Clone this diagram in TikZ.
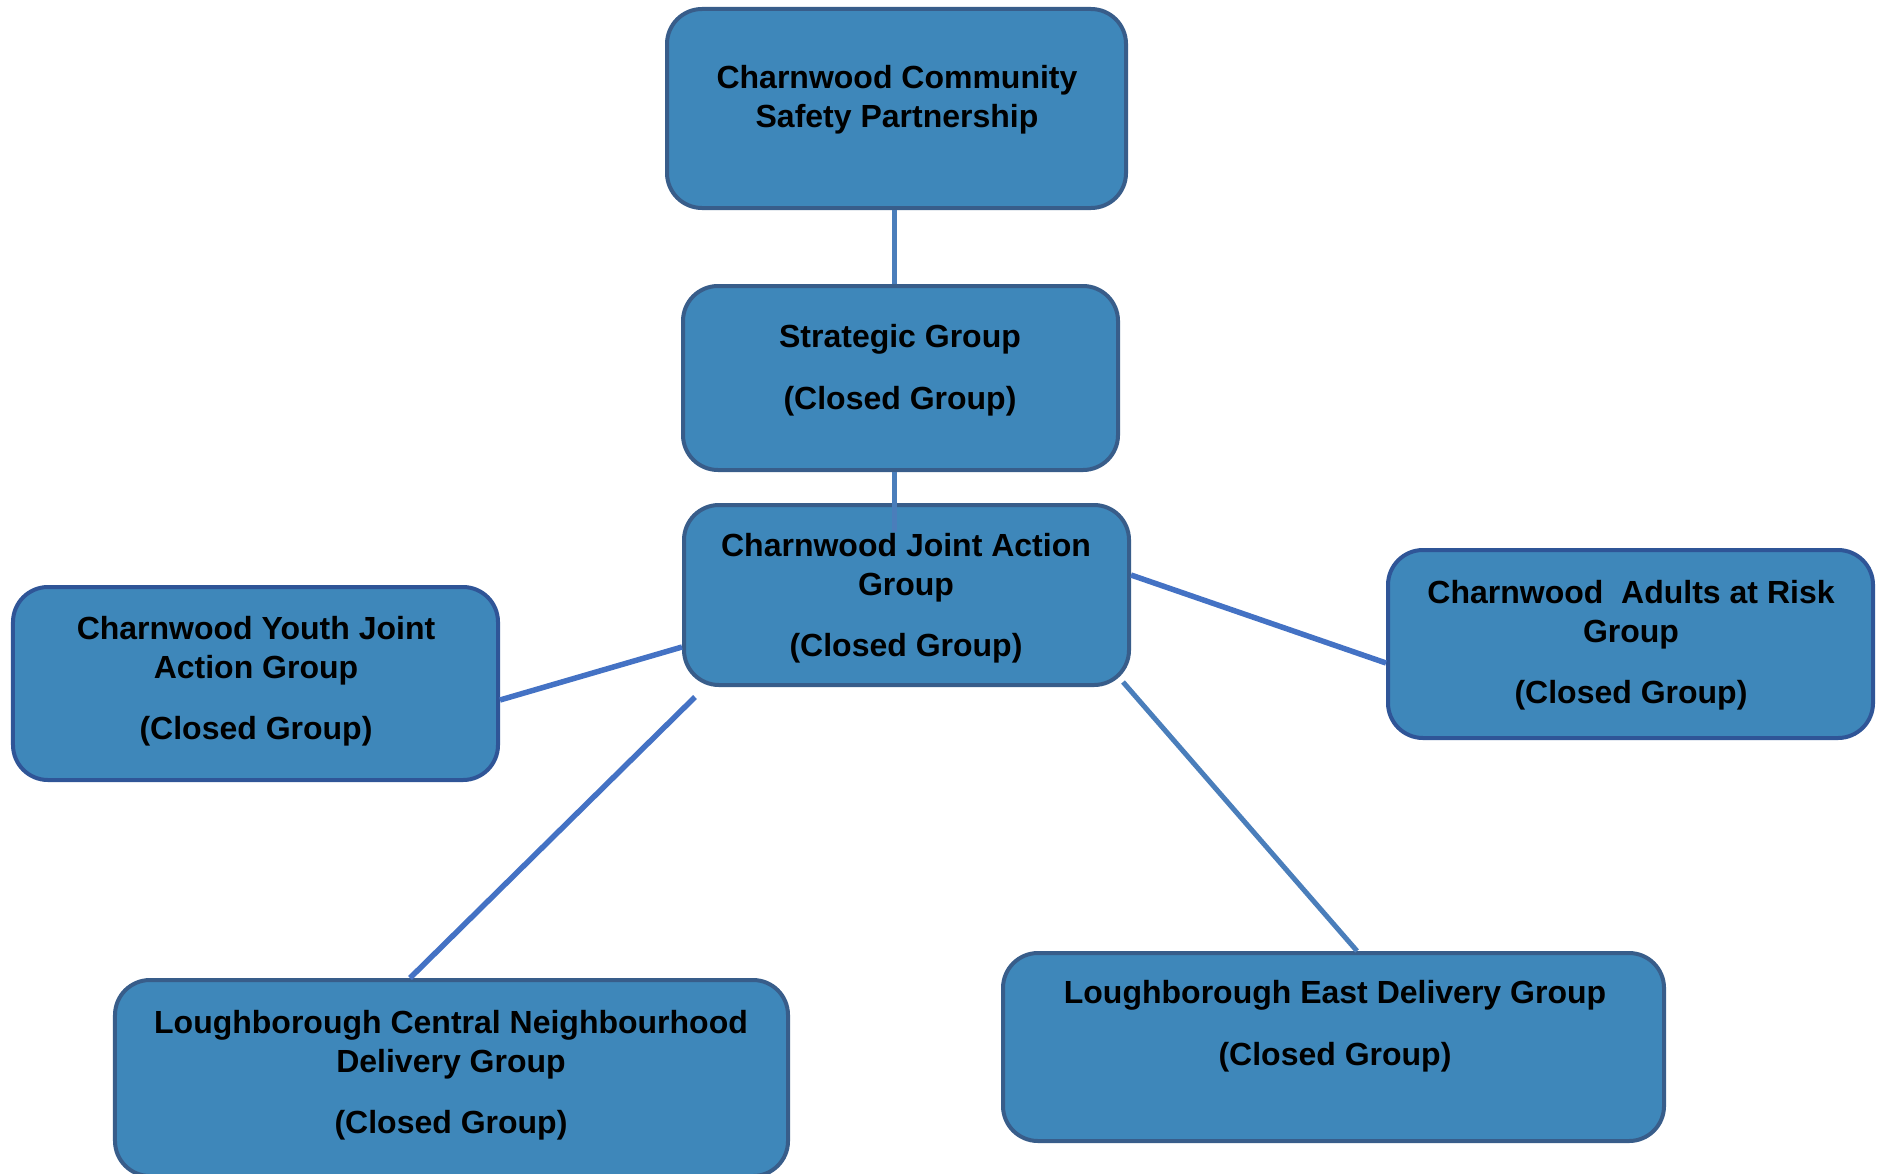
\documentclass[tikz,border=0pt]{standalone}
\usepackage{fontspec}
\setmainfont{Liberation Sans}
\usetikzlibrary{calc}
\definecolor{boxfill}{RGB}{62,135,186}
\definecolor{boxline}{RGB}{56,93,138}
\definecolor{boxlineb}{RGB}{47,85,151}
\definecolor{conn}{RGB}{74,126,187}
\definecolor{connb}{RGB}{68,114,196}
\begin{document}
\begin{tikzpicture}[x=0.4pt,y=-0.4pt,
  box/.style={draw=boxline, fill=boxfill, line width=1.6pt, rounded corners=14pt, inner sep=0pt},
  boxb/.style={box, draw=boxlineb},
  boxtext/.style={font=\bfseries\fontsize{12.8}{15.6}\selectfont, align=center, inner sep=0pt, text=black},
  link/.style={draw=conn, line width=2pt},
  linkb/.style={draw=connb, line width=2.2pt}]
\useasboundingbox (0,0) rectangle (1883,1173);
\clip (0,0) rectangle (1883,1173);

% boxes
\node[box,  minimum width=183.6pt, minimum height=79.6pt] (ccsp)    at (896.5,108.5) {};
\node[box,  minimum width=174pt,   minimum height=73.6pt] (strat)   at (900.5,378) {};
\node[box,  minimum width=178pt,   minimum height=72pt]   (jag)     at (906.5,595) {};
\node[boxb, minimum width=194pt,   minimum height=77.2pt] (youth)   at (255.5,683.5) {};
\node[boxb, minimum width=194pt,   minimum height=75.2pt] (adults)  at (1630.5,644) {};
\node[box,  minimum width=269.2pt, minimum height=78.4pt] (central) at (451.5,1078) {};
\node[box,  minimum width=264.4pt, minimum height=75.2pt] (east)    at (1333.5,1047) {};

% connectors
\coordinate (sj) at ($(strat.south)+(-6.5,60)$);
\coordinate (cstart) at ($(jag.south west)+(13,10)$);
\coordinate (estart) at ($(jag.south east)+(-8,-5)$);
\draw[link] ($(ccsp.south)+(-2.5,0)$) -- ($(strat.north)+(-6.5,0)$);
\draw[link] ($(strat.south)+(-6.5,0)$) -- (sj);
\draw[linkb] ($(youth.east)+(0,16.5)$) -- ($(jag.west)+(0,52)$);
\draw[linkb] ($(jag.east)+(0,-20)$) -- ($(adults.west)+(0,19)$);
\draw[linkb] (cstart) -- ($(central.north)+(-41.5,0)$);
\draw[link] (estart) -- ($(east.north)+(23.5,0)$);

% texts
\node[boxtext] (t-ccsp) at (897,100) {Charnwood Community\\Safety Partnership};
\node[boxtext] (t-strat) at (900,370) {Strategic Group\\[9pt](Closed Group)};
\node[boxtext] (t-jag) at (906,598) {Charnwood Joint Action\\Group\\[9pt](Closed Group)};
\node[boxtext] (t-youth) at (256,681) {Charnwood Youth Joint\\Action Group\\[9pt](Closed Group)};
\node[boxtext] (t-adults) at (1631,645) {Charnwood\ \ Adults at Risk\\Group\\[9pt](Closed Group)};
\node[boxtext] (t-central) at (451,1075) {Loughborough Central Neighbourhood\\Delivery Group\\[9pt](Closed Group)};
\node[boxtext] (t-east) at (1335,1026) {Loughborough East Delivery Group\\[9pt](Closed Group)};
\end{tikzpicture}
\end{document}
